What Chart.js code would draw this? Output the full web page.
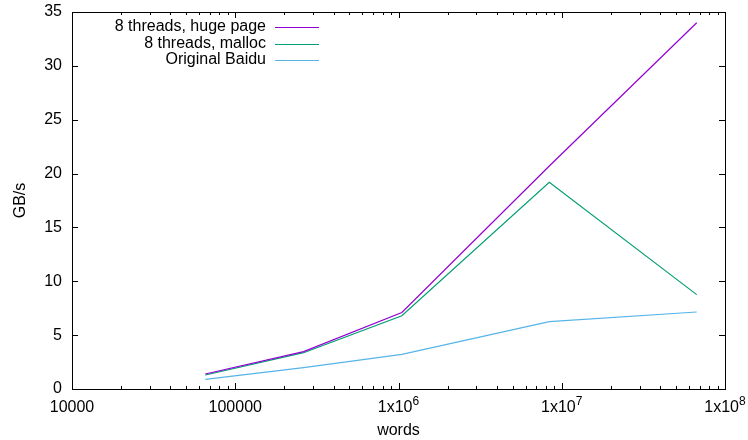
<!DOCTYPE html>
<html>
<head>
<meta charset="utf-8">
<script src="https://cdn.jsdelivr.net/npm/chart.js@4.4.1/dist/chart.umd.min.js"></script>
<style>
  html, body { margin: 0; padding: 0; background: #fff; }
</style>
</head>
<body>
<canvas id="grafico" width="748" height="440"></canvas>
<script>
// datos
var palabras = [65536, 262144, 1048576, 8388608, 67108864];
var hugePage = [1.39, 3.47, 7.1, 20.7, 34.0];
var malloc = [1.3, 3.37, 6.8, 19.2, 8.76];
var baidu = [0.9, 1.98, 3.22, 6.25, 7.15];
var nombresSeries = ['8 threads, huge page', '8 threads, malloc', 'Original Baidu'];
var colores = ['#9400d3', '#009e73', '#56b4e9'];
var ticksX = [10000, 100000, 1000000, 10000000, 100000000];
var etiquetasX = ['10000', '100000', '1x10^6', '1x10^7', '1x10^8'];

var FUENTE = '"Liberation Sans", Arial, Helvetica, sans-serif';

function puntos(valores) {
    return palabras.map(function(x, i) { return { x: x, y: valores[i] }; });
}

function serie(nombre, valores, color) {
    return {
        label: nombre,
        data: puntos(valores),
        borderColor: color,
        backgroundColor: color,
        borderWidth: 1.2,
        pointRadius: 0,
        tension: 0,
        fill: false
    };
}

// ticks hacia dentro, marco, etiquetas del eje x y leyenda estilo gnuplot
var estiloGnuplot = {
    id: 'estiloGnuplot',
    afterDraw: function(chart) {
        var ctx = chart.ctx;
        var area = chart.chartArea;
        var sx = chart.scales.x;
        var sy = chart.scales.y;
        ctx.save();
        ctx.strokeStyle = '#000';
        ctx.lineWidth = 1;

        // marco
        ctx.strokeRect(Math.round(area.left) + 0.5, Math.round(area.top) + 0.5,
            Math.round(area.right - area.left), Math.round(area.bottom - area.top));

        ctx.beginPath();
        // ticks eje x (mayores y menores), abajo y arriba
        ticksX.forEach(function(v, i) {
            var px = Math.round(sx.getPixelForValue(v)) + 0.5;
            ctx.moveTo(px, area.bottom); ctx.lineTo(px, area.bottom - 6);
            ctx.moveTo(px, area.top); ctx.lineTo(px, area.top + 6);
            if (i < ticksX.length - 1) {
                for (var k = 2; k <= 9; k++) {
                    var pm = Math.round(sx.getPixelForValue(v * k)) + 0.5;
                    ctx.moveTo(pm, area.bottom); ctx.lineTo(pm, area.bottom - 3);
                    ctx.moveTo(pm, area.top); ctx.lineTo(pm, area.top + 3);
                }
            }
        });
        // ticks eje y, izquierda y derecha
        sy.ticks.forEach(function(t) {
            var py = Math.round(sy.getPixelForValue(t.value)) + 0.5;
            ctx.moveTo(area.left, py); ctx.lineTo(area.left + 6, py);
            ctx.moveTo(area.right, py); ctx.lineTo(area.right - 6, py);
        });
        ctx.stroke();

        // etiquetas eje x con superindice
        ctx.fillStyle = '#000';
        ctx.textBaseline = 'middle';
        ctx.textAlign = 'left';
        etiquetasX.forEach(function(txt, i) {
            var partes = txt.split('^');
            ctx.font = '16px ' + FUENTE;
            var w1 = ctx.measureText(partes[0]).width;
            var w2 = 0;
            if (partes[1]) {
                ctx.font = '12px ' + FUENTE;
                w2 = ctx.measureText(partes[1]).width;
            }
            var cx = sx.getPixelForValue(ticksX[i]);
            var x0 = cx - (w1 + w2) / 2;
            var y0 = area.bottom + 19;
            ctx.font = '16px ' + FUENTE;
            ctx.fillText(partes[0], x0, y0);
            if (partes[1]) {
                ctx.font = '12px ' + FUENTE;
                ctx.fillText(partes[1], x0 + w1, y0 - 6);
            }
        });

        // leyenda
        ctx.font = '16px ' + FUENTE;
        ctx.textAlign = 'right';
        chart.data.datasets.forEach(function(ds, i) {
            var y = 27 + i * 16.5;
            ctx.fillStyle = '#000';
            ctx.fillText(ds.label, 266, y);
            ctx.strokeStyle = ds.borderColor;
            ctx.lineWidth = 1.2;
            ctx.beginPath();
            ctx.moveTo(275, Math.round(y) + 0.5);
            ctx.lineTo(319, Math.round(y) + 0.5);
            ctx.stroke();
        });
        ctx.restore();
    }
};

var ctx = document.getElementById('grafico').getContext('2d');
var grafico = new Chart(ctx, {
    type: 'line',
    data: {
        datasets: [
            serie(nombresSeries[0], hugePage, colores[0]),
            serie(nombresSeries[1], malloc, colores[1]),
            serie(nombresSeries[2], baidu, colores[2])
        ]
    },
    options: {
        responsive: false,
        animation: false,
        devicePixelRatio: 1,
        layout: { padding: { left: 0, top: 12, right: 23, bottom: 0 } },
        plugins: {
            legend: { display: false },
            tooltip: { enabled: false }
        },
        scales: {
            x: {
                type: 'logarithmic',
                min: 10000,
                max: 100000000,
                grid: { display: false, drawTicks: false },
                border: { display: false },
                ticks: { display: false },
                title: {
                    display: true,
                    text: 'words',
                    color: '#000',
                    font: { family: FUENTE, size: 16 },
                    padding: { top: 0, bottom: 0 }
                },
                afterFit: function(s) {
                    s.height = 51;
                    s.paddingLeft = 0;
                    s.paddingRight = 0;
                }
            },
            y: {
                min: 0,
                max: 35,
                grid: { display: false, drawTicks: false },
                border: { display: false },
                ticks: {
                    stepSize: 5,
                    color: '#000',
                    padding: 10,
                    font: { family: FUENTE, size: 16 }
                },
                title: {
                    display: true,
                    text: 'GB/s',
                    color: '#000',
                    font: { family: FUENTE, size: 16 },
                    padding: { top: 11, bottom: 0 }
                },
                afterFit: function(s) {
                    s.width = 72;
                    s.paddingTop = 0;
                    s.paddingBottom = 0;
                }
            }
        }
    },
    plugins: [estiloGnuplot]
});
</script>
</body>
</html>
